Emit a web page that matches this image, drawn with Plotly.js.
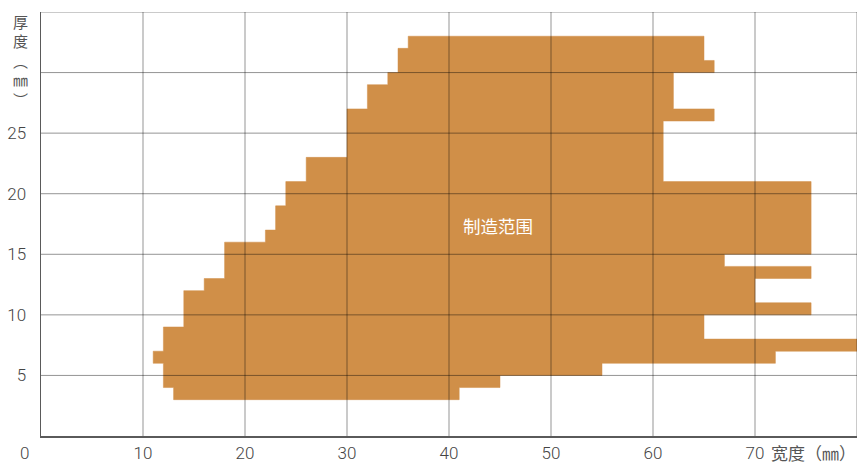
<!DOCTYPE html>
<html>
<head>
<meta charset="utf-8">
<script src="https://cdn.plot.ly/plotly-3.0.1.min.js"></script>
<style>html,body{margin:0;padding:0;background:#fff;}#chart{width:859px;height:464px;}</style>
</head>
<body>
<div id="chart"></div>
<script>
// Outline of the manufacturing range (width mm, thickness mm), traced clockwise
const widthVals = [13, 13, 12, 12, 11, 11, 12, 12, 14, 14, 16, 16, 18, 18, 22, 22, 23, 23, 24, 24, 26, 26, 30, 30, 32, 32, 34, 34, 35, 35, 36, 36,
                   65, 65, 66, 66, 62, 62, 66, 66, 61, 61, 75.5, 75.5, 67, 67, 75.5, 75.5, 70, 70, 75.5, 75.5, 65, 65, 80, 80, 72, 72, 55, 55, 45, 45, 41, 41, 13];
const thickVals = [3, 4, 4, 6, 6, 7, 7, 9, 9, 12, 12, 13, 13, 16, 16, 17, 17, 19, 19, 21, 21, 23, 23, 27, 27, 29, 29, 30, 30, 32, 32, 33,
                   33, 31, 31, 30, 30, 27, 27, 26, 26, 21, 21, 15, 15, 14, 14, 13, 13, 11, 11, 10, 10, 8, 8, 7, 7, 6, 6, 5, 5, 4, 4, 3, 3];

const xTicks = [10, 20, 30, 40, 50, 60, 70];
const xTickText = ['10', '20', '30', '40', '50', '60', '70'];
const yTicks = [5, 10, 15, 20, 25];
const yTickText = ['5', '10', '15', '20', '25'];
const xGrid = [10, 20, 30, 40, 50, 60, 70, 80];
const yGrid = [5, 10, 15, 20, 25, 30, 35];
const xRange = [0, 80];
const yRange = [0, 35];

const regionLabel = '制造范围';
const xTitle = '宽度（㎜）';
const yTitleChars = ['厚', '度', '︵', '㎜', '︶'];

const fillColor = '#D08F48';
const gridColor = 'rgba(0,0,0,0.42)';
const tickFont = {family: 'Roboto, "Liberation Sans", sans-serif', size: 17, color: '#444', weight: 300};
const cjkFamily = '"Noto Sans CJK SC", sans-serif';

const traces = [{
  type: 'scatter', mode: 'lines',
  x: widthVals, y: thickVals,
  fill: 'toself', fillcolor: fillColor,
  line: {color: fillColor, width: 0.5},
  hoverinfo: 'skip', showlegend: false
}];

const shapes = [];
xGrid.forEach(v => shapes.push({type: 'line', xref: 'x', yref: 'paper', x0: v, x1: v, y0: 0, y1: 1,
  line: {color: gridColor, width: 1}, layer: 'above'}));
yGrid.forEach(v => shapes.push({type: 'line', xref: 'paper', yref: 'y', x0: 0, x1: 1, y0: v, y1: v,
  line: {color: gridColor, width: 1}, layer: 'above'}));

const annotations = [
  {text: regionLabel, x: 44.8, y: 17.4, xref: 'x', yref: 'y', showarrow: false,
   font: {family: cjkFamily, size: 17.5, color: '#ffffff'}},
  {text: xTitle, xref: 'paper', yref: 'paper', x: 1, y: 0, xanchor: 'right', yanchor: 'middle',
   yshift: -16, xshift: 0, borderpad: 0, showarrow: false, font: {family: cjkFamily, size: 17, color: '#555'}},
  {text: '0', xref: 'paper', yref: 'paper', x: 0, y: 0, xanchor: 'center', yanchor: 'middle',
   xshift: -17, yshift: -17, showarrow: false, font: tickFont}
];
yTitleChars.forEach((c, i) => annotations.push({
  text: c, xref: 'paper', yref: 'paper', x: 0, y: 1, xanchor: 'center', yanchor: 'middle',
  xshift: -21, yshift: -9 - 19.5 * i, showarrow: false, font: {family: cjkFamily, size: 15, color: '#555'}
}));

const layout = {
  width: 859, height: 464,
  margin: {l: 41, r: 2, t: 12, b: 28},
  paper_bgcolor: '#ffffff', plot_bgcolor: '#ffffff',
  showlegend: false,
  xaxis: {range: xRange, tickvals: xTicks, ticktext: xTickText, showgrid: false, zeroline: false,
          showline: true, linecolor: '#5a5a5a', linewidth: 1.5, ticks: '', ticklabelstandoff: 1,
          tickfont: tickFont, fixedrange: true},
  yaxis: {range: yRange, tickvals: yTicks, ticktext: yTickText, showgrid: false, zeroline: false,
          showline: true, linecolor: '#5a5a5a', linewidth: 1.5, ticks: '', ticklabelstandoff: 10,
          tickfont: tickFont, fixedrange: true},
  shapes: shapes,
  annotations: annotations
};

Plotly.newPlot('chart', traces, layout, {staticPlot: true, displayModeBar: false});
</script>
</body>
</html>
